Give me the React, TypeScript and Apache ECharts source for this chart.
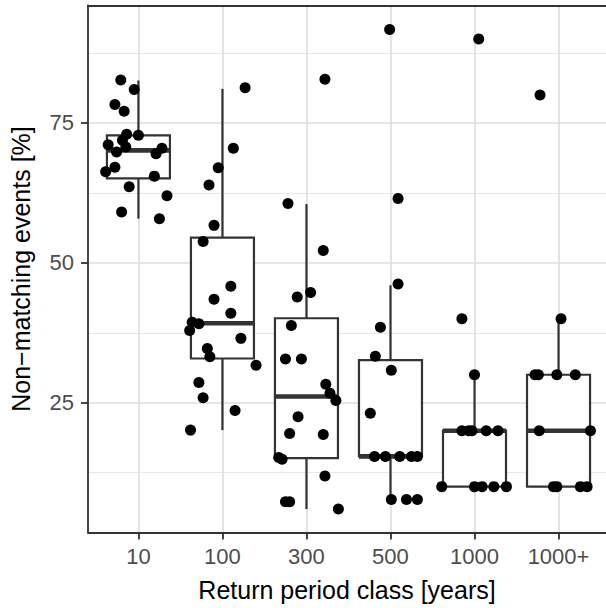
import React, { useEffect, useRef } from "react";
import * as echarts from "echarts";

// ---- data ----
const categories = ["10", "100", "300", "500", "1000", "1000+"];

const values10 = [82.7, 81.0, 78.3, 77.1, 73.0, 72.8, 71.9, 71.1, 70.7, 69.8, 70.5, 69.5, 67.1, 66.3, 65.5, 63.6, 62.0, 59.1, 57.9];
const jitter10 = [-0.21, -0.05, -0.28, -0.17, -0.14, 0.0, -0.19, -0.36, -0.15, -0.26, 0.28, 0.21, -0.28, -0.39, 0.19, -0.11, 0.34, -0.2, 0.25];

const values100 = [81.3, 70.5, 67.0, 63.9, 56.7, 53.8, 45.8, 43.5, 41.0, 39.4, 39.1, 37.9, 36.5, 34.7, 33.2, 31.7, 28.6, 25.9, 23.6, 20.1];
const jitter100 = [0.27, 0.13, -0.05, -0.16, -0.1, -0.23, 0.1, -0.1, 0.1, -0.36, -0.28, -0.39, 0.22, -0.18, -0.15, 0.4, -0.28, -0.23, 0.15, -0.38];

const values300 = [82.8, 60.6, 52.2, 43.9, 44.7, 38.8, 32.8, 32.8, 28.3, 26.7, 25.4, 22.5, 19.5, 19.3, 15.2, 14.9, 11.9, 7.3, 7.3, 6.0];
const jitter300 = [0.22, -0.22, 0.2, -0.11, 0.05, -0.18, -0.25, -0.06, 0.23, 0.28, 0.35, -0.1, -0.2, 0.2, -0.33, -0.29, 0.22, -0.25, -0.2, 0.38];

const values500 = [91.7, 61.5, 46.2, 38.5, 33.3, 30.8, 23.1, 15.4, 15.4, 15.4, 15.4, 15.4, 7.7, 7.7, 7.7];
const jitter500 = [-0.01, 0.09, 0.09, -0.12, -0.18, 0.01, -0.24, -0.19, -0.06, 0.11, 0.25, 0.32, 0.01, 0.19, 0.32];

const values1000 = [90, 40, 30, 20, 20, 20, 20, 20, 10, 10, 10, 10, 10];
const jitter1000 = [0.05, -0.15, 0.0, -0.15, -0.07, -0.03, 0.14, 0.28, -0.39, 0.0, 0.09, 0.23, 0.38];

const values1000p = [80, 40, 30, 30, 30, 30, 20, 20, 10, 10, 10, 10];
const jitter1000p = [-0.22, 0.03, -0.28, -0.24, -0.02, 0.2, -0.23, 0.38, -0.06, -0.02, 0.26, 0.34];

// box summary (lower whisker, Q1, median, Q3, upper whisker)
const boxLow = [57.9, 20.1, 6.0, 7.7, 10, 10];
const boxQ1 = [65.1, 32.9, 15.1, 15.4, 10, 10];
const boxMed = [70.1, 39.2, 26.1, 15.4, 20, 20];
const boxQ3 = [72.8, 54.5, 40.1, 32.6, 20, 30];
const boxHigh = [82.6, 81.1, 60.5, 46.0, 30, 40];

const yTicks = [25, 50, 75];
const yMinor = [12.5, 37.5, 62.5, 87.5];

const groups = [
  [values10, jitter10],
  [values100, jitter100],
  [values300, jitter300],
  [values500, jitter500],
  [values1000, jitter1000],
  [values1000p, jitter1000p],
];

const FONT = "'Liberation Sans', Arial, Helvetica, sans-serif";
const DARK = "#333333";
const BOX_HALF = 0.375;
const BOX_LW = 2.2;

export default function App() {
  const ref = useRef<HTMLDivElement>(null);

  useEffect(() => {
    document.body.style.margin = "0";
    if (!ref.current) return;
    const chart = echarts.init(ref.current, null, { renderer: "svg" });

    const points: number[][] = [];
    groups.forEach(([vals, jit], i) => {
      vals.forEach((v, k) => points.push([i + 1 + jit[k], v]));
    });
    const boxes = categories.map((_, i) => [i + 1, boxLow[i], boxQ1[i], boxMed[i], boxQ3[i], boxHigh[i]]);

    const gridMajor = { color: "#DEDEDE", width: 1.6 };
    const gridMinor = { color: "#E6E6E6", width: 1 };

    chart.setOption({
      animation: false,
      textStyle: { fontFamily: FONT },
      grid: { left: 86, right: 0, top: 5.5, bottom: 75.5, containLabel: false },
      xAxis: [
        {
          type: "value",
          min: 0.4,
          max: 6.565,
          position: "bottom",
          axisLine: { show: true, onZero: false, lineStyle: { color: DARK, width: 1.8 } },
          axisTick: { show: true, length: 7, customValues: [1, 2, 3, 4, 5, 6], lineStyle: { color: DARK, width: 1.8 } },
          axisLabel: {
            customValues: [1, 2, 3, 4, 5, 6],
            formatter: (v: number) => categories[Math.round(v) - 1],
            color: "#4D4D4D",
            fontSize: 22,
            margin: 13,
            fontFamily: FONT,
          },
          splitLine: { show: true, lineStyle: gridMajor },
          name: "Return period class [years]",
          nameLocation: "middle",
          nameGap: 45,
          nameTextStyle: { fontSize: 25, color: "#000", fontFamily: FONT },
        },
        {
          type: "value",
          min: 0.4,
          max: 6.565,
          position: "top",
          axisLine: { show: true, onZero: false, lineStyle: { color: DARK, width: 1.8 } },
          axisTick: { show: false },
          axisLabel: { show: false },
          splitLine: { show: false },
        },
      ],
      yAxis: [
        {
          type: "value",
          min: 1.8,
          max: 96,
          position: "left",
          axisLine: { show: true, onZero: false, lineStyle: { color: DARK, width: 1.8 } },
          axisTick: { show: true, length: 7, customValues: yTicks, lineStyle: { color: DARK, width: 1.8 } },
          axisLabel: { customValues: yTicks, color: "#4D4D4D", fontSize: 22, margin: 14, fontFamily: FONT },
          splitLine: { show: true, lineStyle: gridMajor },
          name: "Non\u2212matching events [%]",
          nameLocation: "middle",
          nameRotate: 90,
          nameGap: 55,
          nameTextStyle: { fontSize: 25, color: "#000", fontFamily: FONT },
        },
        {
          type: "value",
          min: 1.8,
          max: 96,
          position: "right",
          axisLine: { show: false },
          axisTick: { show: false, customValues: yMinor },
          axisLabel: { show: false, customValues: yMinor },
          splitLine: { show: true, lineStyle: gridMinor },
        },
      ],
      series: [
        {
          type: "custom",
          xAxisIndex: 0,
          yAxisIndex: 0,
          z: 2,
          data: boxes,
          encode: { x: 0, y: [1, 2, 3, 4, 5] },
          renderItem: (_params: any, api: any) => {
            const x = api.value(0);
            const lo = api.value(1);
            const q1 = api.value(2);
            const med = api.value(3);
            const q3 = api.value(4);
            const hi = api.value(5);
            const [xl, yq3] = api.coord([x - BOX_HALF, q3]);
            const [xr, yq1] = api.coord([x + BOX_HALF, q1]);
            const [xc, ylo] = api.coord([x, lo]);
            const yhi = api.coord([x, hi])[1];
            const ymed = api.coord([x, med])[1];
            return {
              type: "group",
              children: [
                { type: "line", shape: { x1: xc, y1: yhi, x2: xc, y2: yq3 }, style: { stroke: DARK, lineWidth: BOX_LW } },
                { type: "line", shape: { x1: xc, y1: yq1, x2: xc, y2: ylo }, style: { stroke: DARK, lineWidth: BOX_LW } },
                {
                  type: "rect",
                  shape: { x: xl, y: yq3, width: xr - xl, height: yq1 - yq3 },
                  style: { fill: "#fff", stroke: DARK, lineWidth: BOX_LW },
                },
                { type: "line", shape: { x1: xl, y1: ymed, x2: xr, y2: ymed }, style: { stroke: DARK, lineWidth: 4.6 } },
              ],
            };
          },
        },
        {
          type: "scatter",
          xAxisIndex: 0,
          yAxisIndex: 0,
          z: 3,
          symbol: "circle",
          symbolSize: 11,
          itemStyle: { color: "#000", opacity: 1 },
          data: points,
        },
      ],
    });

    return () => chart.dispose();
  }, []);

  return <div ref={ref} style={{ width: 606, height: 608 }} />;
}
